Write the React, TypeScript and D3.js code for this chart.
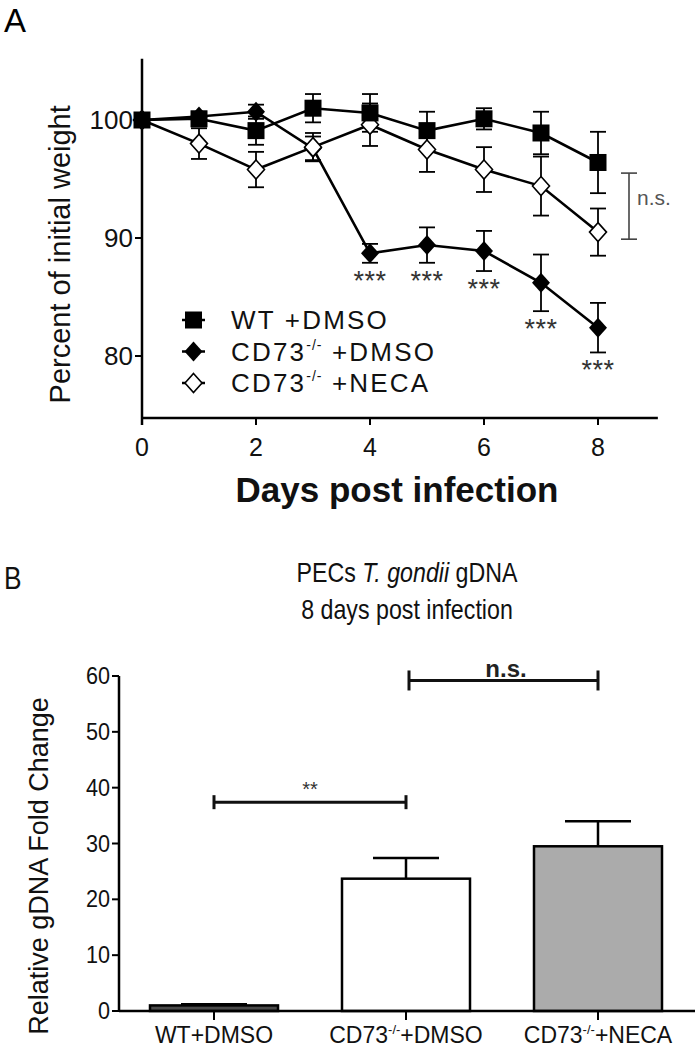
import React from "react";
import * as d3 from "d3";

// ---------- Panel A data ----------
const days = [0, 1, 2, 3, 4, 5, 6, 7, 8];
const wtMean = [100, 100.1, 99.1, 101.0, 100.6, 99.1, 100.1, 98.9, 96.4];
const wtErr = [0, 0.5, 1.2, 1.2, 1.6, 1.6, 0.9, 1.8, 2.6];
const koMean = [100, 100.3, 100.7, 97.6, 88.7, 89.4, 88.9, 86.2, 82.4];
const koErr = [0, 0.4, 0.6, 1.0, 0.8, 1.5, 1.7, 2.4, 2.1];
const necaMean = [100, 98.0, 95.8, 97.7, 99.6, 97.5, 95.8, 94.4, 90.5];
const necaErr = [0, 1.3, 1.5, 1.2, 1.8, 1.9, 1.9, 2.5, 2.0];
const starDays = [4, 5, 6, 7, 8];
const xTicksA = [0, 2, 4, 6, 8];
const yTicksA = [80, 90, 100];

// ---------- Panel B data ----------
const categories = ["WT+DMSO", "CD73-/-+DMSO", "CD73-/-+NECA"];
const barValues = [1.0, 23.7, 29.5];
const barErrors = [0.2, 3.7, 4.5];
const barFills = ["#4a4a4a", "#ffffff", "#ababab"];
const yTicksB = [0, 10, 20, 30, 40, 50, 60];

const FONT = "'Liberation Sans', Arial, Helvetica, sans-serif";

export default function App() {
  // Panel A scales
  const xA = d3.scaleLinear().domain([0, 8]).range([142, 598]);
  const yA = d3.scaleLinear().domain([90, 100]).range([238, 120]);
  const axisBottomA = yA(74.75);
  const axisTopA = yA(105.2);
  const axisRightA = xA(9.05);

  const line = d3
    .line<number>()
    .x((_, i) => xA(days[i]))
    .y((d) => yA(d));

  const series = [
    { mean: koMean, err: koErr, kind: "kd" },
    { mean: necaMean, err: necaErr, kind: "od" },
    { mean: wtMean, err: wtErr, kind: "sq" },
  ];

  const diamond = (cx: number, cy: number, hw: number, hh: number) =>
    `M${cx},${cy - hh}L${cx + hw},${cy}L${cx},${cy + hh}L${cx - hw},${cy}Z`;

  const marker = (kind: string, cx: number, cy: number, key: string) => {
    if (kind === "sq")
      return <rect key={key} x={cx - 8.5} y={cy - 8.5} width={17} height={17} fill="#000" />;
    if (kind === "kd")
      return <path key={key} d={diamond(cx, cy, 9, 10)} fill="#000" />;
    return <path key={key} d={diamond(cx, cy, 8.5, 9.5)} fill="#fff" stroke="#000" strokeWidth={1.6} />;
  };

  // Panel B scales
  const xB = d3.scaleBand<string>().domain(categories).range([118, 694]).paddingInner(1 / 3).paddingOuter(1 / 6);
  const yB = d3.scaleLinear().domain([0, 60]).range([1011, 676]);
  const bw = xB.bandwidth();
  const cxB = (c: string) => (xB(c) as number) + bw / 2;

  const catLabel = (c: string) => {
    if (c.startsWith("CD73")) {
      const rest = c.replace("CD73-/-", "");
      return (
        <>
          CD73
          <tspan fontSize={13} dy={-9}>-/-</tspan>
          <tspan dy={9}>{rest}</tspan>
        </>
      );
    }
    return c;
  };

  return (
    <svg width={700} height={1049} style={{ display: "block", position: "absolute", left: 0, top: 0, background: "#fff" }}>
      <rect width={700} height={1049} fill="#fff" />
      {/* ===== Panel A ===== */}
      <text x={4} y={32} fontFamily={FONT} fontSize={33} fill="#000">A</text>

      {/* axes */}
      <line x1={xA(0)} x2={xA(0)} y1={axisTopA} y2={axisBottomA + 7} stroke="#000" strokeWidth={2.5} />
      <line x1={xA(0)} x2={axisRightA} y1={axisBottomA} y2={axisBottomA} stroke="#000" strokeWidth={2.5} />
      {xTicksA.map((t) => (
        <g key={"xt" + t}>
          <line x1={xA(t)} x2={xA(t)} y1={axisBottomA} y2={axisBottomA + 7} stroke="#000" strokeWidth={2} />
          <text x={xA(t)} y={axisBottomA + 38} textAnchor="middle" fontFamily={FONT} fontSize={25} fill="#111">{t}</text>
        </g>
      ))}
      {yTicksA.map((t) => (
        <g key={"yt" + t}>
          <line x1={xA(0) - 7} x2={xA(0)} y1={yA(t)} y2={yA(t)} stroke="#000" strokeWidth={2} />
          <text x={xA(0) - 9} y={yA(t) + 9} textAnchor="end" fontFamily={FONT} fontSize={26} fill="#111">{t}</text>
        </g>
      ))}
      <text
        transform={`translate(70,${(axisTopA + axisBottomA) / 2 + 16}) rotate(-90)`}
        textAnchor="middle"
        fontFamily={FONT}
        fontSize={29}
        fill="#111"
      >
        Percent of initial weight
      </text>
      <text x={397} y={502} textAnchor="middle" fontFamily={FONT} fontWeight="bold" fontSize={35} fill="#111">
        Days post infection
      </text>

      {/* series lines */}
      {series.map((s, si) => (
        <path key={"ln" + si} d={line(s.mean) || ""} fill="none" stroke="#000" strokeWidth={2.6} />
      ))}
      {/* error bars */}
      {series.map((s, si) =>
        s.mean.map((m, i) =>
          s.err[i] > 0 ? (
            <g key={`eb${si}-${i}`} stroke="#000" strokeWidth={1.8}>
              <line x1={xA(days[i])} x2={xA(days[i])} y1={yA(m + s.err[i])} y2={yA(m - s.err[i])} />
              <line x1={xA(days[i]) - 8} x2={xA(days[i]) + 8} y1={yA(m + s.err[i])} y2={yA(m + s.err[i])} />
              <line x1={xA(days[i]) - 8} x2={xA(days[i]) + 8} y1={yA(m - s.err[i])} y2={yA(m - s.err[i])} />
            </g>
          ) : null
        )
      )}
      {/* markers */}
      {series.map((s, si) => s.mean.map((m, i) => marker(s.kind, xA(days[i]), yA(m), `mk${si}-${i}`)))}

      {/* significance stars */}
      {starDays.map((d) => {
        const i = days.indexOf(d);
        return (
          <text key={"st" + d} x={xA(d)} y={yA(koMean[i] - koErr[i]) + 27} textAnchor="middle" fontFamily={FONT} fontSize={27} letterSpacing={0.5} fill="#333">
            ***
          </text>
        );
      })}

      {/* n.s. bracket */}
      <g stroke="#444" strokeWidth={1.6}>
        <line x1={629} x2={629} y1={yA(wtMean[8] - 0.9)} y2={yA(necaMean[8] - 0.6)} />
        <line x1={621} x2={637} y1={yA(wtMean[8] - 0.9)} y2={yA(wtMean[8] - 0.9)} />
        <line x1={621} x2={637} y1={yA(necaMean[8] - 0.6)} y2={yA(necaMean[8] - 0.6)} />
      </g>
      <text x={637} y={205} fontFamily={FONT} fontSize={21} fill="#555">n.s.</text>

      {/* legend */}
      {[
        { kind: "sq", label: "WT +DMSO", sup: false },
        { kind: "kd", label: "+DMSO", sup: true },
        { kind: "od", label: "+NECA", sup: true },
      ].map((l, i) => {
        const y = 320 + i * 31.5;
        return (
          <g key={"lg" + i}>
            <line x1={182} x2={205} y1={y} y2={y} stroke="#000" strokeWidth={2.5} />
            {marker(l.kind, 193.5, y, "lm" + i)}
            <text x={231} y={y + 9} fontFamily={FONT} fontSize={26} letterSpacing={2.2} fill="#111">
              {l.sup ? (
                <>
                  CD73
                  <tspan fontSize={14} dy={-11} letterSpacing={1}>-/-</tspan>
                  <tspan dy={11}> {l.label}</tspan>
                </>
              ) : (
                l.label
              )}
            </text>
          </g>
        );
      })}

      {/* ===== Panel B ===== */}
      <text transform="translate(4,589) scale(0.85,1)" fontFamily={FONT} fontSize={31} fill="#111">B</text>
      <text transform="translate(407,582) scale(0.86,1)" textAnchor="middle" fontFamily={FONT} fontSize={27} fill="#111">
        PECs <tspan fontStyle="italic">T. gondii</tspan> gDNA
      </text>
      <text transform="translate(407,619) scale(0.86,1)" textAnchor="middle" fontFamily={FONT} fontSize={27} fill="#111">
        8 days post infection
      </text>

      {/* bars */}
      {categories.map((c, i) => (
        <g key={"bar" + i}>
          <line x1={cxB(c)} x2={cxB(c)} y1={yB(barValues[i])} y2={yB(barValues[i] + barErrors[i])} stroke="#000" strokeWidth={2.5} />
          <line x1={cxB(c) - 33} x2={cxB(c) + 33} y1={yB(barValues[i] + barErrors[i])} y2={yB(barValues[i] + barErrors[i])} stroke="#000" strokeWidth={2.5} />
          <rect
            x={xB(c)}
            y={yB(barValues[i])}
            width={bw}
            height={yB(0) - yB(barValues[i])}
            fill={barFills[i]}
            stroke="#000"
            strokeWidth={2.5}
          />
        </g>
      ))}

      {/* axes B */}
      <line x1={119} x2={119} y1={yB(60)} y2={yB(0)} stroke="#000" strokeWidth={2.5} />
      <line x1={119} x2={695} y1={yB(0)} y2={yB(0)} stroke="#000" strokeWidth={2.5} />
      {yTicksB.map((t) => (
        <g key={"ybt" + t}>
          <line x1={112} x2={119} y1={yB(t)} y2={yB(t)} stroke="#000" strokeWidth={2} />
          <text transform={`translate(110,${yB(t) + 8}) scale(0.9,1)`} textAnchor="end" fontFamily={FONT} fontSize={24} fill="#111">{t}</text>
        </g>
      ))}
      {categories.map((c) => (
        <g key={"xbt" + c}>
          <line x1={cxB(c)} x2={cxB(c)} y1={yB(0)} y2={yB(0) + 9} stroke="#000" strokeWidth={2} />
          <text x={cxB(c)} y={1043} textAnchor="middle" fontFamily={FONT} fontSize={23} fill="#111">
            {catLabel(c)}
          </text>
        </g>
      ))}
      <text
        transform={`translate(48,${866}) rotate(-90)`}
        textAnchor="middle"
        fontFamily={FONT}
        fontSize={27}
        fill="#111"
      >
        Relative gDNA Fold Change
      </text>

      {/* significance brackets B */}
      <g stroke="#111" strokeWidth={3}>
        <line x1={cxB(categories[0])} x2={cxB(categories[1])} y1={yB(37.4)} y2={yB(37.4)} />
        <line x1={cxB(categories[0])} x2={cxB(categories[0])} y1={yB(37.4) - 7} y2={yB(37.4) + 7} />
        <line x1={cxB(categories[1])} x2={cxB(categories[1])} y1={yB(37.4) - 7} y2={yB(37.4) + 7} />
        <line x1={cxB(categories[1]) + 3} x2={cxB(categories[2])} y1={yB(59.2)} y2={yB(59.2)} />
        <line x1={cxB(categories[1]) + 3} x2={cxB(categories[1]) + 3} y1={yB(59.2) - 10} y2={yB(59.2) + 10} />
        <line x1={cxB(categories[2])} x2={cxB(categories[2])} y1={yB(59.2) - 10} y2={yB(59.2) + 10} />
      </g>
      <text x={(cxB(categories[0]) + cxB(categories[1])) / 2} y={796} textAnchor="middle" fontFamily={FONT} fontSize={20} fill="#333">**</text>
      <text x={(cxB(categories[1]) + cxB(categories[2])) / 2 + 4} y={677} textAnchor="middle" fontFamily={FONT} fontWeight="bold" fontSize={24} fill="#222">n.s.</text>
    </svg>
  );
}
